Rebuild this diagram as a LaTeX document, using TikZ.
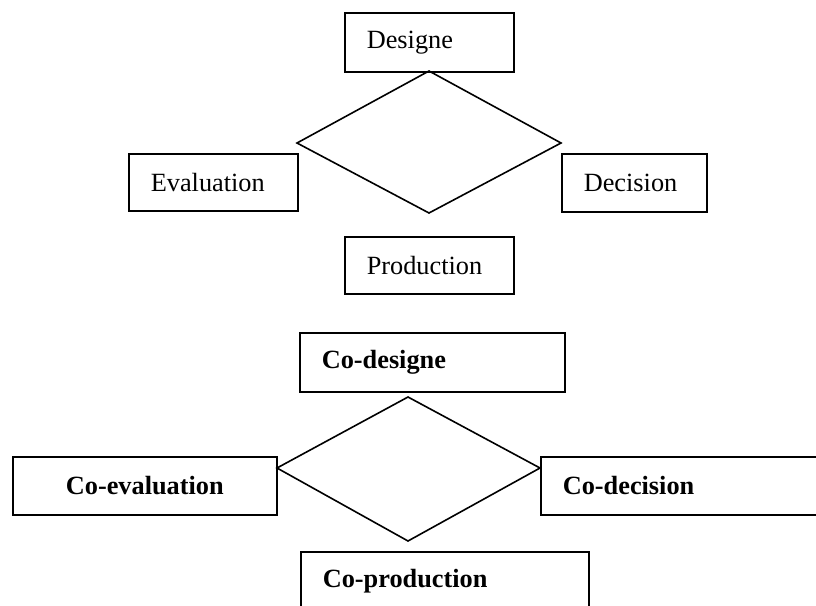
\documentclass[tikz,border=0pt]{standalone}
\usepackage{fontspec}
\setmainfont{Liberation Serif}
\usepackage{tikz}
\usetikzlibrary{calc}

\tikzset{
  box/.style={draw, line width=1.6pt, anchor=north west, align=left,
    inner xsep=22pt, inner ysep=0pt, font=\fontsize{26.3}{30}\selectfont},
  boldbox/.style={box, font=\fontsize{26.3}{30}\selectfont\bfseries}
}

\begin{document}
\begin{tikzpicture}[x=1pt,y=-1pt]
  \clip (0,0) rectangle (816,605);

  % upper picture
  \node [box, text width=125pt, minimum height=59pt] (des) at (344,12) {Designe};
  \node [box, text width=125pt, minimum height=57pt] (eval) at (128,153) {Evaluation};
  \node [box, text width=101pt, minimum height=58pt] (dec) at (561,153) {Decision};
  \node [box, text width=125pt, minimum height=57pt] (prod) at (344,236) {Production};

  \coordinate (t1) at (429,71);
  \coordinate (l1) at (297,143);
  \coordinate (r1) at (561,143);
  \coordinate (b1) at (429,213);

  \draw [line width=1.6pt, line join=miter] (t1) -- (r1) -- (b1) -- (l1) -- cycle;

  % lower picture
  \node [boldbox, text width=221pt, minimum height=59pt] (codes) at (299,332) {Co-designe};
  \node [boldbox, text width=220pt, minimum height=58pt, align=center] (coeval) at (12,456) {Co-evaluation};
  \node [boldbox, text width=256pt, minimum height=58pt] (codec) at (540,456) {Co-decision};
  \node [boldbox, text width=244pt, minimum height=58pt] (coprod) at (300,551) {Co-production};

  \coordinate (t2) at (408,397);
  \coordinate (l2) at (277,468);
  \coordinate (r2) at (540,468);
  \coordinate (b2) at (408,541);

  \draw [line width=1.6pt, line join=miter] (t2) -- (r2) -- (b2) -- (l2) -- cycle;
\end{tikzpicture}
\end{document}
